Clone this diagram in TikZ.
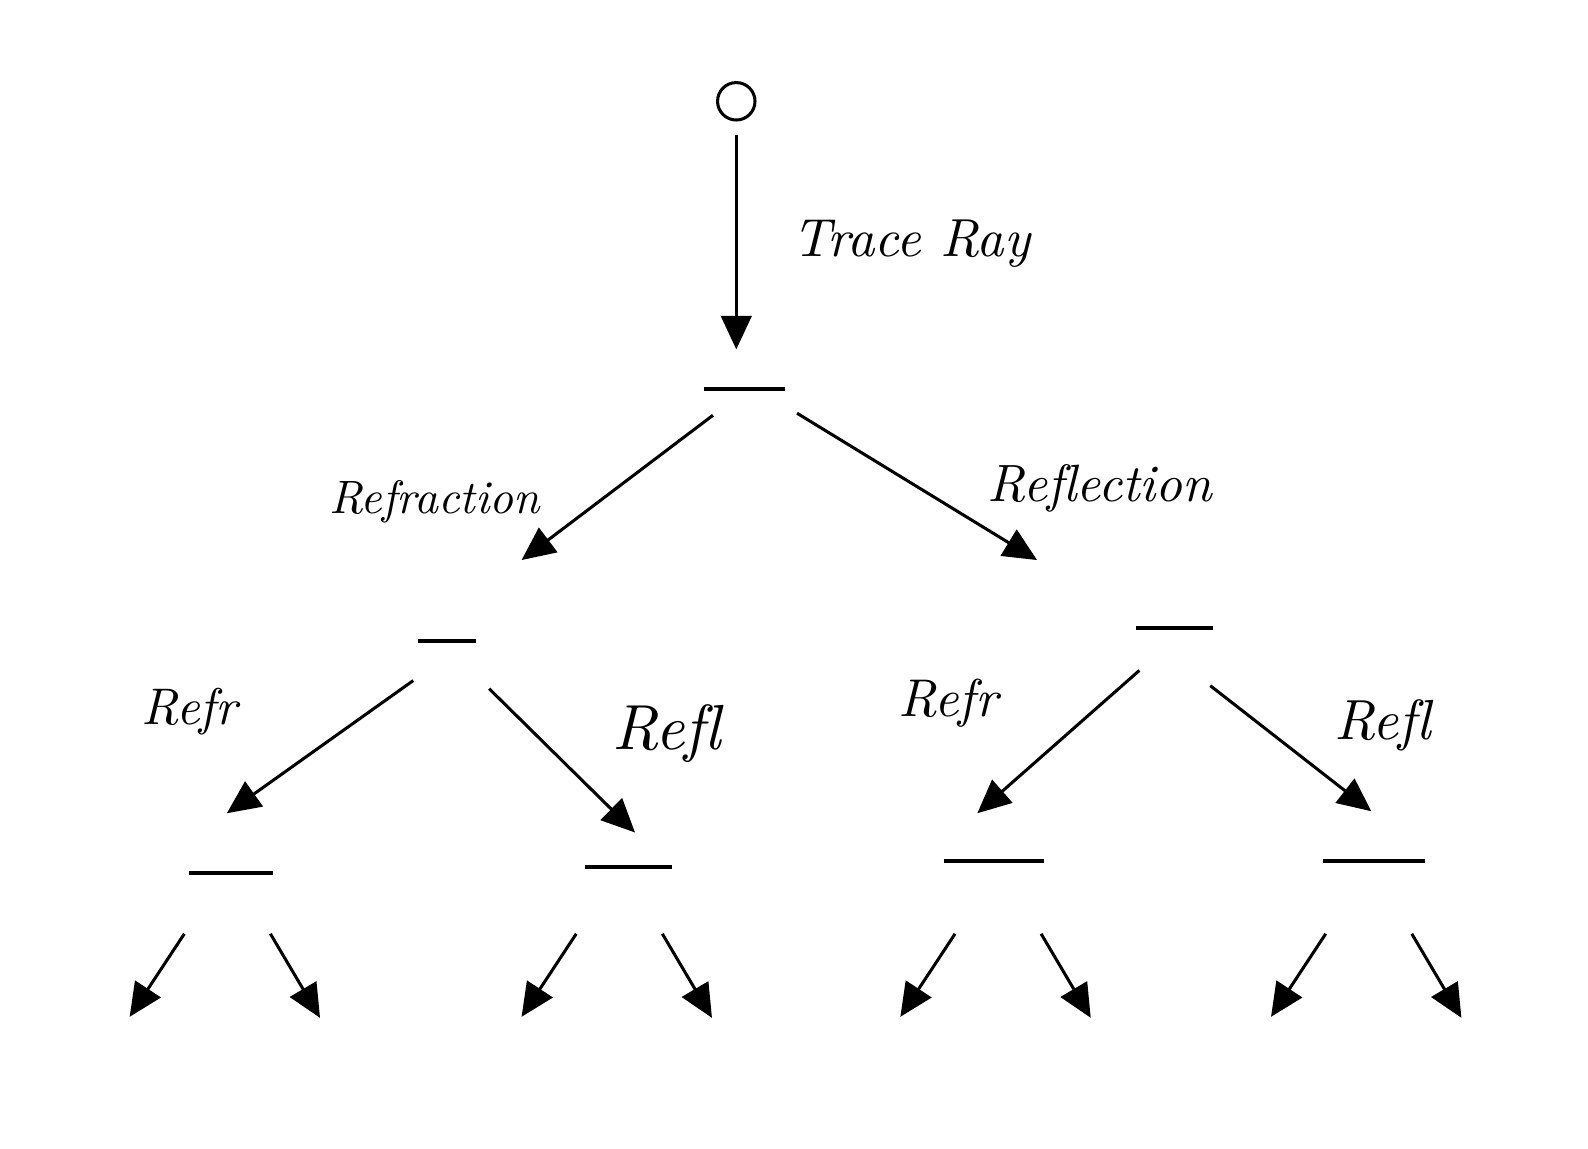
\documentclass[tikz,border=0pt]{standalone}
\usetikzlibrary{arrows.meta}
\newcommand{\hwtext}[2]{\resizebox{#1}{!}{\itshape #2}}
\begin{document}
\begin{tikzpicture}[x=0.02cm,y=-0.02cm,
  ray/.style={line width=0.06cm,-{Triangle[length=0.66cm,width=0.6cm]}},
  barline/.style={line width=0.07cm},
  barnode/.style={inner sep=0pt,minimum height=0pt,minimum width=#1*0.02cm},
  lbl/.style={inner sep=0pt,anchor=center}]
\useasboundingbox[fill=white] (0,0) rectangle (1568,1134);
% root
\node[draw,circle,line width=0.06cm,minimum size=0.74cm,inner sep=0pt] (root) at (727,100) {};
% bars
\node[barnode=80] (b0) at (735,384) {};
\node[barnode=57] (b1) at (441.5,633) {};
\node[barnode=75] (b2) at (1159.5,620) {};
\node[barnode=82] (c1) at (228,862) {};
\node[barnode=85] (c2) at (620.5,856) {};
\node[barnode=98] (c3) at (981,850) {};
\node[barnode=100] (c4) at (1357,850) {};
\foreach \b in {b0,b1,b2,c1,c2,c3,c4} \draw[barline] (\b.west) -- (\b.east);
% coordinates for arrow ends
\coordinate (t0) at (727,345);
\coordinate (s1) at (704,410); \coordinate (t1) at (515,553);
\coordinate (s2) at (787,408); \coordinate (t2) at (1024,553);
\coordinate (s11) at (408,672); \coordinate (t11) at (224,803);
\coordinate (s12) at (483,680); \coordinate (t12) at (627,822);
\coordinate (s21) at (1125,662); \coordinate (t21) at (965,803);
\coordinate (s22) at (1195,677); \coordinate (t22) at (1354,801);
% arrows
\draw[ray] ([yshift=-0.26cm]root.south) -- (t0);
\draw[ray] (s1) -- (t1);
\draw[ray] (s2) -- (t2);
\draw[ray] (s11) -- (t11);
\draw[ray] (s12) -- (t12);
\draw[ray] (s21) -- (t21);
\draw[ray] (s22) -- (t22);
% bottom arrows
\foreach \bx/\n in {182/1,569/2,943/3,1309/4}{
  \coordinate (ls\n) at (\bx,922); \coordinate (lt\n) at (\bx-54,1004);
  \coordinate (rs\n) at (\bx+85,922); \coordinate (rt\n) at (\bx+134,1005);
  \draw[ray] (ls\n) -- (lt\n);
  \draw[ray] (rs\n) -- (rt\n);
}
% labels
\node[lbl] (ltrace) at (900,241) {\hwtext{4.68cm}{Trace Ray}};
\node[lbl] (lrefr) at (429,495) {\hwtext{4.16cm}{Refraction}};
\node[lbl] (lrefl) at (1086,482) {\hwtext{4.44cm}{Ref\kern0ptlection}};
\node[lbl] (lr1) at (187,703) {\hwtext{1.9cm}{Refr}};
\node[lbl] (lf1) at (658,724) {\hwtext{2.14cm}{Ref\kern0ptl}};
\node[lbl] (lr2) at (936,694) {\hwtext{1.96cm}{Refr}};
\node[lbl] (lf2) at (1365,716) {\hwtext{1.9cm}{Ref\kern0ptl}};
\end{tikzpicture}
\end{document}
